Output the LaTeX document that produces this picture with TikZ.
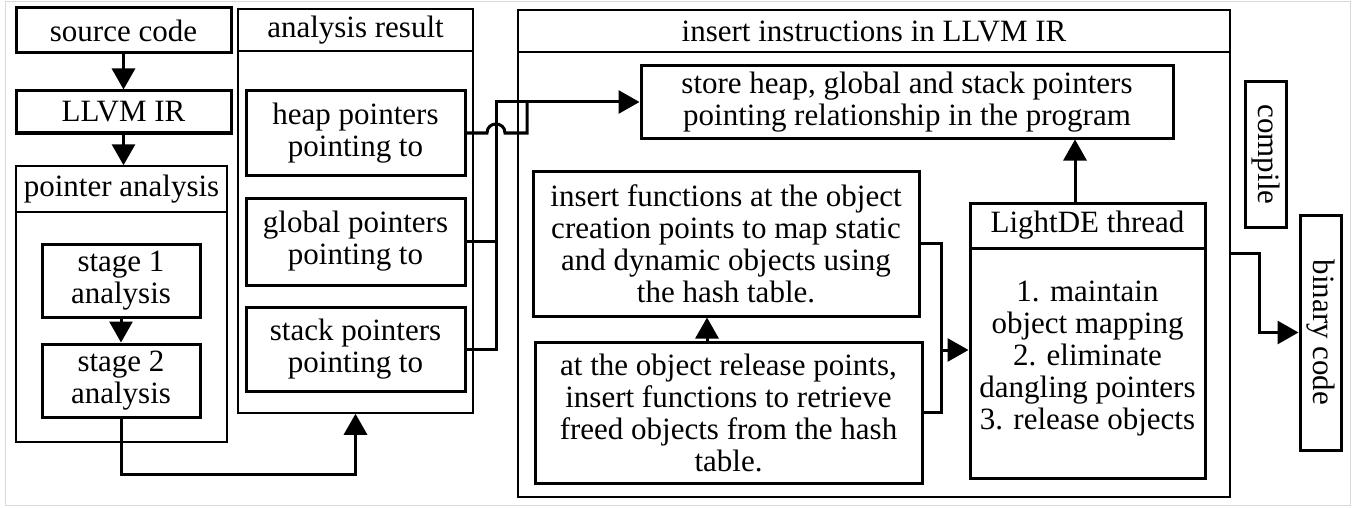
\documentclass[tikz,border=0pt]{standalone}
\usepackage{fontspec}
\setmainfont{Liberation Serif}
\usetikzlibrary{arrows.meta}

\tikzset{
	txt/.style={inner sep=0pt, align=center, font=\fontsize{31}{32}\selectfont},
	blk/.style={txt, draw, line width=3pt},
	grp/.style={txt, draw, line width=1.5pt},
	link/.style={line width=3pt},
	arrw/.style={line width=3pt, -{Triangle[length=21pt,width=23pt]}}
}

\begin{document}
\begin{tikzpicture}[x=1pt, y=-1pt]
	%\draw[help lines] (0,0) grid (1367,508);
	\useasboundingbox (0,0) rectangle (1367,508);
	\draw[gray!30, line width=1pt] (5,2) rectangle (1350,505);
	
	% left column
	\node[blk, minimum width=215, minimum height=45] (src) at (123.5,30.5) {source code};
	\node[blk, minimum width=215, minimum height=42] (llvm) at (123.5,112) {LLVM IR};
	\node[grp, minimum width=211, minimum height=276] (pa) at (121.5,304) {};
	\node[grp, anchor=north, minimum width=211, minimum height=46] (pah) at (pa.north) {pointer analysis};
	\node[blk, minimum width=158, minimum height=73] (st1) at (121,280.5) {stage 1\\analysis};
	\node[blk, minimum width=158, minimum height=73] (st2) at (121,380.5) {stage 2\\analysis};
	
	% analysis result
	\node[grp, minimum width=235, minimum height=404] (ar) at (355.5,211) {};
	\node[grp, anchor=north, minimum width=235, minimum height=42] (arh) at (ar.north) {analysis result};
	\node[blk, minimum width=219, minimum height=84] (heap) at (355.5,133) {heap pointers\\pointing to};
	\node[blk, minimum width=219, minimum height=87] (glob) at (355.5,241.5) {global pointers\\pointing to};
	\node[blk, minimum width=219, minimum height=84] (stk) at (355.5,349) {stack pointers\\pointing to};
	
	% insert instructions
	\node[grp, minimum width=712, minimum height=487] (ins) at (874,253.5) {};
	\node[grp, anchor=north, minimum width=712, minimum height=42] (insh) at (ins.north) {insert instructions in LLVM IR};
	\node[blk, minimum width=532, minimum height=72] (store) at (907,102) {store heap, global and stack pointers\\pointing relationship in the program};
	\node[blk, minimum width=386, minimum height=145] (ifun) at (726,243.5) {insert functions at the object\\creation points to map static\\and dynamic objects using\\the hash table.};
	\node[blk, minimum width=387, minimum height=141] (rel) at (728.5,412.5) {at the object release points,\\insert functions to retrieve\\freed objects from the hash\\table.};
	\node[blk, minimum width=235, minimum height=275] (light) at (1087.5,340.5) {};
	\node[blk, anchor=north, minimum width=235, minimum height=45] (lighth) at (light.north) {LightDE thread};
	\node[txt] (lightt) at (1087.5,359) {1. maintain\\object mapping\\2. eliminate\\dangling pointers\\3. release objects};
	
	% right side
	\node[blk, rotate=-90, minimum width=145, minimum height=41] (comp) at (1265.5,154.5) {compile};
	\node[blk, rotate=-90, minimum width=235, minimum height=41] (bin) at (1320.5,332.5) {binary code};
	
	\coordinate (bus) at (496,102);
	\coordinate (jx) at (527,102);
	\coordinate (mg) at (941,350);
	\coordinate (ua) at (707,0);
	\coordinate (la) at (1075,0);
	
	\draw[arrw] (src) -- (llvm);
	\draw[arrw] (llvm.south) -- (llvm.south |- pah.north);
	\draw[arrw] (st1) -- (st2);
	\draw[arrw] (st2.south) -- ++(0,56) -| (ar.south);
	
	\draw[link] (heap.east) -- (487,133) .. controls (487,121) and (505,121) .. (505,133) -| (jx);
	\draw[link] (glob.east) -- (glob.east -| bus);
	\draw[arrw] (stk.east) -| (bus) -- (store.west);
	
	\draw[arrw] (rel.north -| ua) -- (ifun.south -| ua);
	\draw[link] (ifun.east) -| (mg);
	\draw[link] (rel.east) -| (mg);
	\draw[arrw] (mg) -- (light.west |- mg);
	\draw[arrw] (light.north -| la) -- (store.south -| la);
	\draw[arrw] (ins.east) -- ++(29,0) |- (bin.south);
\end{tikzpicture}
\end{document}
